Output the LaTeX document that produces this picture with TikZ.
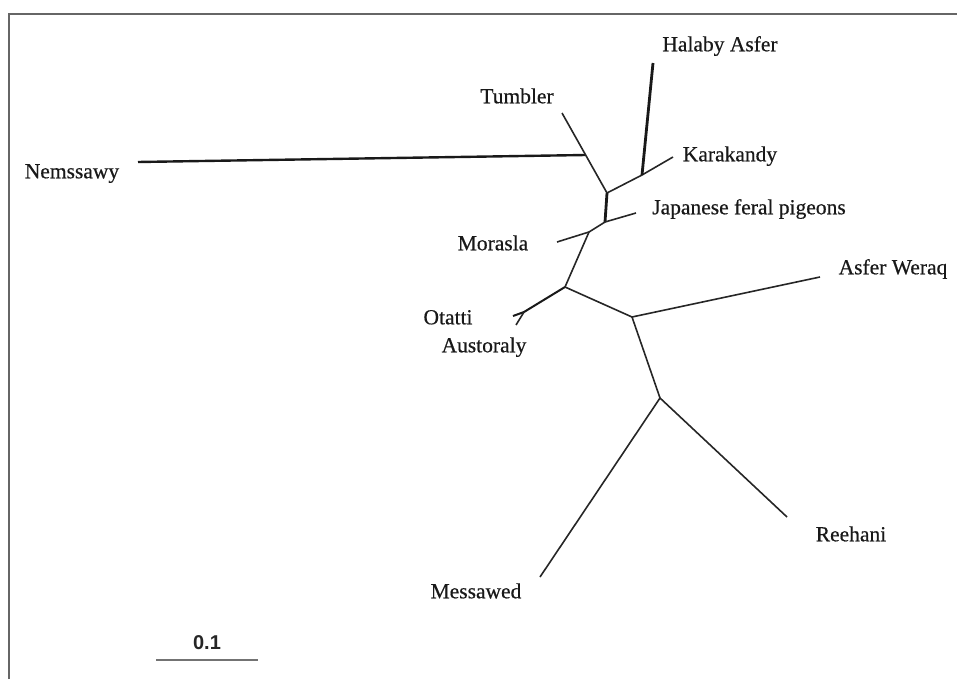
\documentclass[tikz,border=0pt]{standalone}
\usepackage{fontspec}
\setmainfont{Liberation Serif}[FakeBold=0.5]
\newfontfamily\barfont{Liberation Sans}
\usetikzlibrary{calc}
\begin{document}
\begin{tikzpicture}[x=1pt,y=-1pt,
  lbl/.style={font=\fontsize{21.5}{24}\selectfont, inner sep=0pt, anchor=mid, text=black!90},
  br/.style={line width=1.6pt, black!85},
  thk/.style={line width=2.8pt, black!90},
  frame/.style={line width=1.8pt, black!60}]
\useasboundingbox (0,0) rectangle (957,679);
% frame
\coordinate (fTL) at (9,14);
\coordinate (fTR) at (957,14);
\coordinate (fBL) at (9,679);
\draw[frame] (fBL) -- (fTL) -- (fTR);
% tree coordinates
\coordinate (nemEnd) at (138,162);
\coordinate (tumEnd) at (562,113);
\coordinate (A) at (607,193);
\coordinate (nemJ) at ($(tumEnd)!0.525!(A)$);
\coordinate (karJ) at (642,175);
\coordinate (karEnd) at (673,157);
\coordinate (halEnd) at (653,63);
\coordinate (B) at (605,222);
\coordinate (japEnd) at (636,213);
\coordinate (C) at (589,232);
\coordinate (morEnd) at (557,242);
\coordinate (D) at (565,287);
\coordinate (fork) at (524,312);
\coordinate (otEnd) at (513,316);
\coordinate (ausEnd) at (516,325);
\coordinate (E) at (632,317);
\coordinate (asfEnd) at (820,277);
\coordinate (F) at (660,398);
\coordinate (mesEnd) at (540,577);
\coordinate (reeEnd) at (787,517);
% branches
\draw[line width=2.4pt, black!90] (nemEnd) -- (nemJ);
\draw[br] (tumEnd) -- (A);
\draw[br] (A) -- (karJ) -- (karEnd);
\draw[thk] (karJ) -- (halEnd);
\draw[thk] (A) -- (B);
\draw[br] (B) -- (japEnd);
\draw[br] (B) -- (C) -- (morEnd);
\draw[br] (C) -- (D);
\draw[line width=2pt, black!90] (D) -- (fork) -- (otEnd);
\draw[br] (fork) -- (ausEnd);
\draw[br] (D) -- (E) -- (asfEnd);
\draw[br] (E) -- (F);
\draw[br] (F) -- (mesEnd);
\draw[br] (F) -- (reeEnd);
% labels
\node[lbl] (lHal) at (720,49) {Halaby Asfer};
\node[lbl] (lTum) at (517,101) {Tumbler};
\node[lbl] (lKar) at (730,159) {Karakandy};
\node[lbl] (lNem) at (72,176) {Nemssawy};
\node[lbl] (lJap) at (749,212) {Japanese feral pigeons};
\node[lbl] (lMor) at (493,248) {Morasla};
\node[lbl] (lAsf) at (893,272) {Asfer Weraq};
\node[lbl] (lOta) at (448,322) {Otatti};
\node[lbl] (lAus) at (484,350) {Austoraly};
\node[lbl] (lRee) at (851,539) {Reehani};
\node[lbl] (lMes) at (476,596) {Messawed};
% scale bar
\coordinate (sbL) at (156,660);
\coordinate (sbR) at (258,660);
\draw[line width=1.3pt, black!55] (sbL) -- (sbR);
\node[font=\barfont\bfseries\fontsize{20}{22}\selectfont, inner sep=0pt, anchor=mid, text=black!85] (sbT) at (207,647) {0.1};
\end{tikzpicture}
\end{document}
